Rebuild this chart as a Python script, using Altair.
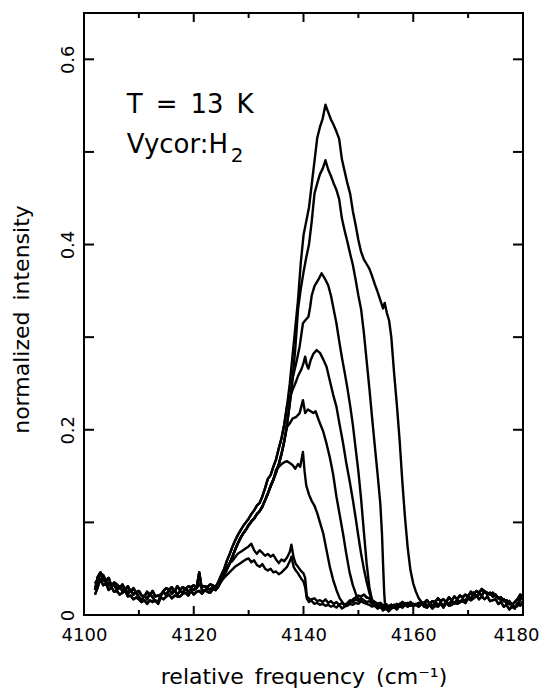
import altair as alt
import pandas as pd

# ---------------- data ----------------
X_LABELS = [4100, 4120, 4140, 4160, 4180]
Y_LABELS = [0, 0.2, 0.4, 0.6]
Y_TICKS = [0.1, 0.2, 0.3, 0.4, 0.5, 0.6]
X_MAJOR = [4120, 4140, 4160]
X_MINOR = [4110, 4130, 4150, 4170]

# shared noisy left baseline (x = 4102 ... step 0.5)
LB_X0 = 4102
LB_A = [0.027,0.041,0.046,0.037,0.036,0.033,0.031,0.033,0.027,0.031,0.026,0.029,0.023,0.027,0.022,0.025,0.019,0.016,0.021,0.017,0.023,0.019,0.015,0.014,0.021,0.025,0.021,0.028,0.023,0.027,0.022,0.026,0.024,0.029,0.025,0.028,0.027,0.029,0.046,0.027,0.026,0.029,0.027,0.031]
LB_B = [0.034,0.038,0.045,0.043,0.037,0.040,0.031,0.035,0.033,0.029,0.033,0.027,0.031,0.025,0.029,0.024,0.026,0.021,0.020,0.025,0.021,0.026,0.020,0.021,0.022,0.026,0.029,0.027,0.030,0.025,0.031,0.027,0.030,0.028,0.031,0.030,0.032,0.029,0.033,0.031,0.031,0.030,0.033,0.032]
LB_C = [0.022,0.030,0.039,0.032,0.034,0.027,0.030,0.025,0.026,0.022,0.024,0.026,0.020,0.021,0.017,0.019,0.017,0.014,0.016,0.012,0.016,0.014,0.016,0.012,0.019,0.017,0.020,0.022,0.018,0.021,0.020,0.020,0.023,0.024,0.021,0.026,0.022,0.025,0.026,0.023,0.027,0.025,0.024,0.028]

# shared rising edge (x = 4124 ... step 0.5)
RISE_X0 = 4124
RISE_A = [0.030,0.036,0.043,0.049,0.058,0.065,0.073,0.080,0.086,0.091,0.096,0.100,0.104,0.109,0.113,0.118,0.121,0.128,0.137,0.147,0.151,0.160,0.168,0.180,0.191,0.206,0.226,0.250,0.280,0.310,0.340,0.375]
RISE_B = [0.027,0.031,0.037,0.043,0.049,0.055,0.062,0.070,0.077,0.083,0.088,0.092,0.097,0.101,0.104,0.109,0.112,0.117,0.124,0.131,0.139,0.146,0.154,0.163,0.174,0.188,0.206,0.228,0.255,0.287,0.322,0.352]

# middle baseline (x = 4141 ... step 0.5)
MB_X0 = 4141
MB_A = [0.020,0.017,0.018,0.015,0.016,0.014,0.017,0.013,0.015,0.012,0.014,0.011,0.013,0.010,0.012,0.014,0.017,0.019,0.021,0.020,0.022,0.019,0.018,0.016,0.014,0.012,0.013,0.010,0.012,0.009,0.011,0.008,0.012,0.010,0.014,0.011,0.013,0.010,0.012,0.011,0.013,0.012]
MB_B = [0.016,0.019,0.014,0.017,0.013,0.016,0.012,0.015,0.011,0.013,0.010,0.012,0.009,0.011,0.013,0.016,0.014,0.017,0.015,0.018,0.016,0.014,0.015,0.012,0.013,0.010,0.011,0.007,0.010,0.006,0.009,0.011,0.008,0.012,0.009,0.013,0.010,0.014,0.011,0.012,0.010,0.013]
MB_C = [0.014,0.015,0.012,0.013,0.011,0.012,0.010,0.011,0.009,0.010,0.008,0.011,0.007,0.009,0.010,0.012,0.011,0.013,0.012,0.015,0.013,0.012,0.011,0.009,0.010,0.007,0.009,0.005,0.008,0.004,0.007,0.009,0.006,0.010,0.008,0.011,0.009,0.012,0.010,0.011,0.009,0.012]

# right baseline (x = 4162 ... step 0.5)
RB_X0 = 4162
RB_A = [0.013,0.010,0.012,0.009,0.014,0.011,0.013,0.010,0.014,0.012,0.015,0.013,0.016,0.014,0.017,0.015,0.020,0.017,0.024,0.020,0.023,0.021,0.026,0.022,0.024,0.020,0.022,0.018,0.019,0.015,0.016,0.012,0.011,0.008,0.010,0.017,0.020]
RB_B = [0.013,0.016,0.012,0.015,0.014,0.018,0.015,0.017,0.014,0.019,0.016,0.020,0.017,0.021,0.019,0.022,0.020,0.025,0.022,0.026,0.024,0.028,0.025,0.024,0.022,0.024,0.020,0.019,0.016,0.017,0.013,0.015,0.011,0.014,0.017,0.022,0.019]
RB_C = [0.009,0.008,0.011,0.007,0.010,0.009,0.012,0.008,0.013,0.010,0.011,0.013,0.012,0.014,0.015,0.013,0.018,0.016,0.018,0.021,0.017,0.020,0.017,0.020,0.015,0.016,0.017,0.012,0.014,0.009,0.011,0.006,0.009,0.007,0.013,0.010,0.015]

# individual parts of each spectrum
C1_X = [4139.5,4140,4140.5,4141,4141.5,4142,4142.5,4143,4143.5,4144,4144.5,4145,4145.5,4146,4146.5,4147,4147.5,4148,4148.5,4149,4149.5,4150,4150.5,4151,4151.5,4152,4152.5,4153,4153.5,4154,4154.5,4154.8,4155.2,4155.6,4156,4156.5,4157,4157.5,4158,4158.5,4159,4159.5,4160,4160.5,4161,4161.5]
C1_Y = [0.38,0.41,0.425,0.44,0.465,0.49,0.515,0.527,0.536,0.551,0.543,0.535,0.529,0.522,0.514,0.492,0.479,0.466,0.455,0.436,0.421,0.405,0.392,0.384,0.379,0.374,0.366,0.357,0.349,0.34,0.331,0.337,0.326,0.318,0.30,0.262,0.228,0.19,0.145,0.105,0.072,0.048,0.034,0.025,0.018,0.014]

C2_X = [4139,4139.5,4140,4140.5,4141,4141.5,4142,4142.5,4143,4143.5,4144,4144.5,4145,4145.5,4146,4146.5,4147,4147.5,4148,4148.5,4149,4149.5,4150,4150.5,4151,4151.5,4152,4152.5,4153,4153.5,4154,4154.3,4154.5,4154.7,4154.9,4155.3]
C2_Y = [0.33,0.352,0.37,0.386,0.40,0.425,0.455,0.466,0.476,0.482,0.491,0.481,0.474,0.466,0.459,0.449,0.428,0.415,0.403,0.39,0.378,0.362,0.345,0.33,0.305,0.275,0.245,0.213,0.182,0.152,0.12,0.088,0.055,0.025,0.006,0.010]

C3_X = [4138,4138.7,4139.3,4139.9,4140.3,4140.9,4141.2,4141.5,4142,4142.7,4143.3,4144,4144.5,4145,4145.5,4146,4146.5,4147,4147.5,4148,4148.5,4149,4149.5,4150,4150.5,4151,4151.5,4152,4152.5,4153]
C3_Y = [0.255,0.273,0.29,0.315,0.318,0.322,0.332,0.345,0.355,0.362,0.369,0.362,0.356,0.345,0.33,0.315,0.296,0.278,0.262,0.245,0.226,0.205,0.18,0.155,0.125,0.09,0.056,0.03,0.016,0.012]

C4_X = [4137.5,4138,4138.5,4139,4139.6,4140,4140.3,4140.6,4140.9,4141.3,4141.8,4142.4,4143,4143.6,4144.2,4144.8,4145.4,4146,4146.6,4147.2,4147.8,4148.4,4149,4149.5,4150,4150.5,4151,4151.5,4152,4152.5]
C4_Y = [0.234,0.243,0.25,0.258,0.265,0.272,0.279,0.27,0.266,0.275,0.282,0.286,0.283,0.276,0.268,0.253,0.238,0.225,0.205,0.186,0.164,0.145,0.124,0.105,0.085,0.066,0.05,0.036,0.024,0.015]

C5_X = [4137,4137.5,4138,4138.7,4139.3,4139.9,4140.3,4140.8,4141.3,4141.8,4142.2,4142.8,4143.6,4144.2,4144.8,4145.4,4146,4146.6,4147.2,4147.8,4148.4,4149,4149.7,4150.3]
C5_Y = [0.203,0.207,0.212,0.214,0.218,0.232,0.218,0.222,0.22,0.218,0.22,0.21,0.198,0.185,0.17,0.152,0.128,0.108,0.088,0.066,0.046,0.032,0.02,0.015]

C6_X = [4135,4135.5,4136,4136.5,4137,4137.5,4138,4138.5,4139,4139.4,4139.9,4140.2,4140.5,4141,4141.5,4142,4142.5,4143,4143.6,4144.2,4144.8,4145.4,4146,4146.6,4147.2]
C6_Y = [0.157,0.16,0.163,0.165,0.166,0.164,0.162,0.158,0.163,0.16,0.176,0.155,0.14,0.13,0.123,0.118,0.11,0.1,0.088,0.07,0.052,0.038,0.027,0.018,0.013]

C78_X = [4124,4124.5,4125,4125.5,4126,4126.5,4127,4127.5,4128,4128.5,4129,4129.5,4130,4130.5,4131,4131.5,4132,4132.5,4133,4133.5,4134,4134.5,4135,4135.5,4136,4136.5,4137,4137.5,4137.8,4138.2,4138.6,4139,4139.5,4140,4140.3,4140.6,4141]
C7_Y = [0.031,0.035,0.04,0.046,0.052,0.056,0.058,0.062,0.066,0.068,0.07,0.072,0.074,0.077,0.07,0.066,0.07,0.067,0.064,0.066,0.063,0.065,0.06,0.056,0.06,0.058,0.062,0.068,0.076,0.062,0.055,0.052,0.048,0.045,0.04,0.02,0.018]
C8_Y = [0.029,0.032,0.036,0.04,0.043,0.046,0.049,0.052,0.054,0.056,0.058,0.06,0.061,0.057,0.059,0.054,0.052,0.055,0.05,0.048,0.05,0.046,0.047,0.044,0.046,0.049,0.052,0.058,0.063,0.052,0.048,0.045,0.04,0.036,0.03,0.018,0.014]

# (name, left baseline, rise, last rise x, own x, own y, mid baseline, right baseline)
CURVES = [
    ("c1", LB_A, RISE_A, 4139.0, C1_X, C1_Y, MB_A, RB_A),
    ("c2", LB_B, RISE_B, 4138.5, C2_X, C2_Y, MB_A, RB_B),
    ("c3", LB_C, RISE_B, 4137.5, C3_X, C3_Y, MB_B, RB_C),
    ("c4", LB_A, RISE_A, 4137.0, C4_X, C4_Y, MB_C, RB_A),
    ("c5", LB_B, RISE_B, 4136.5, C5_X, C5_Y, MB_A, RB_B),
    ("c6", LB_C, RISE_B, 4134.5, C6_X, C6_Y, MB_B, RB_C),
    ("c7", LB_A, [], 0, C78_X, C7_Y, MB_C, RB_A),
    ("c8", LB_B, [], 0, C78_X, C8_Y, MB_A, RB_B),
]

rows = []
for name, lb, rise, rise_end, cx, cy, mb, rb in CURVES:
    pts = [(LB_X0 + 0.5 * i, v) for i, v in enumerate(lb)]
    pts += [(RISE_X0 + 0.5 * i, v) for i, v in enumerate(rise) if RISE_X0 + 0.5 * i <= rise_end]
    pts += list(zip(cx, cy))
    last = pts[-1][0]
    pts += [(MB_X0 + 0.5 * i, v) for i, v in enumerate(mb) if MB_X0 + 0.5 * i > last]
    last = pts[-1][0]
    pts += [(RB_X0 + 0.5 * i, v) for i, v in enumerate(rb) if RB_X0 + 0.5 * i > last]
    for k, (f, v) in enumerate(pts):
        rows.append({"f": f, "v": v, "curve": name, "i": k})
df = pd.DataFrame(rows)

W, H = 439, 602
FONT = "DejaVu Sans"
xs = alt.Scale(domain=[4100, 4180], nice=False, zero=False)
ys = alt.Scale(domain=[0, 0.65], nice=False, zero=False)

x_axis = alt.Axis(
    values=X_LABELS, format="d", ticks=False, tickSize=0, domain=False, grid=False,
    labelFont=FONT, labelFontSize=18, labelColor="black", labelPadding=11, labelFlush=False,
    labelOffset={"condition": {"test": "datum.value == 4180", "value": -7}, "value": 0},
    title="relative\u2002frequency\u2002(cm\u207b\u00b9)", titleFont=FONT, titleFontSize=22,
    titleFontWeight="normal", titleColor="black", titleY=68, titleBaseline="alphabetic",
)
y_axis = alt.Axis(
    values=Y_LABELS, format=".1~f", ticks=False, tickSize=0, domain=False, grid=False,
    labelFont=FONT, labelFontSize=18, labelColor="black", labelPadding=11, labelFlush=False,
    labelAngle=270, labelAlign="center", labelBaseline="alphabetic",
    title="normalized\u2002intensity", titleFont=FONT, titleFontSize=22,
    titleFontWeight="normal", titleColor="black", titleAngle=270,
    titleX=-56, titleY=306, titleAlign="center", titleBaseline="alphabetic",
)

lines = alt.Chart(df).mark_line(color="black", strokeWidth=2.4, strokeJoin="round").encode(
    x=alt.X("f:Q", scale=xs, axis=x_axis),
    y=alt.Y("v:Q", scale=ys, axis=y_axis),
    detail="curve:N",
    order="i:Q",
)

yt = pd.DataFrame({"v": Y_TICKS})
ytl = alt.Chart(yt).mark_rule(color="black", strokeWidth=2).encode(
    y=alt.Y("v:Q", scale=ys), x=alt.value(0), x2=alt.value(10))
ytr = alt.Chart(yt).mark_rule(color="black", strokeWidth=2).encode(
    y=alt.Y("v:Q", scale=ys), x=alt.value(W - 10), x2=alt.value(W))

xmaj = pd.DataFrame({"f": X_MAJOR})
xmin = pd.DataFrame({"f": X_MINOR})
def xticks(d, y0, y1):
    return alt.Chart(d).mark_rule(color="black", strokeWidth=2).encode(
        x=alt.X("f:Q", scale=xs), y=alt.value(y0), y2=alt.value(y1))
ticks = [xticks(xmaj, H - 9, H), xticks(xmaj, 0, 9), xticks(xmin, H - 5, H), xticks(xmin, 0, 5)]

ann = pd.DataFrame({"f": [4107.8, 4107.8], "v": [0.5424, 0.4984],
                    "t": ["T\u2002=\u200213\u2002K", "Vycor:H"]})
ann_txt = alt.Chart(ann).mark_text(font=FONT, fontSize=26, align="left", baseline="alphabetic",
                                   color="black").encode(
    x=alt.X("f:Q", scale=xs), y=alt.Y("v:Q", scale=ys), text="t:N")
sub = pd.DataFrame({"f": [4107.8], "v": [0.4984], "t": ["2"]})
sub_txt = alt.Chart(sub).mark_text(font=FONT, fontSize=20, align="left", baseline="alphabetic",
                                   color="black", dx=104, dy=9).encode(
    x=alt.X("f:Q", scale=xs), y=alt.Y("v:Q", scale=ys), text="t:N")

chart = alt.layer(lines, ytl, ytr, *ticks, ann_txt, sub_txt).properties(
    width=W, height=H,
    autosize=alt.AutoSizeParams(type="none"),
    padding={"left": 76, "top": 5, "right": 16, "bottom": 73},
    background="white",
).configure_view(stroke="black", strokeWidth=2)

chart.save("out.html", embed_options={"renderer": "svg", "actions": False})
